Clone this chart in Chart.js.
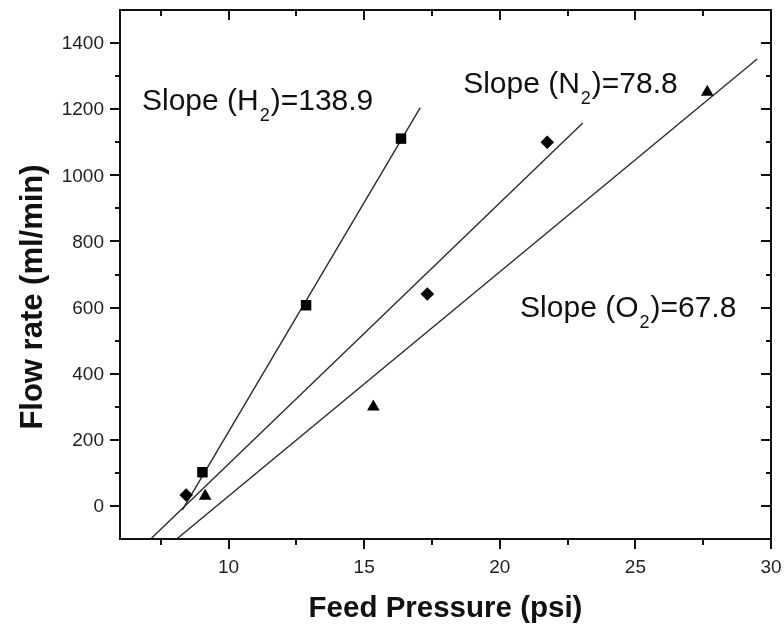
<!DOCTYPE html>
<html>
<head>
<meta charset="utf-8">
<script src="https://cdn.jsdelivr.net/npm/chart.js@4.4.0/dist/chart.umd.min.js"></script>
<style>
  html, body { margin: 0; padding: 0; background: #fff; }
  #wrap { width: 784px; height: 626px; }
</style>
</head>
<body>
<div id="wrap"><canvas id="chart" width="784" height="626"></canvas></div>
<script>
// Measured points (feed pressure in psi, flow rate in ml/min)
const h2Pressure = [9.04, 12.86, 16.36];
const h2Flow = [102, 607, 1111];
const n2Pressure = [8.44, 17.33, 21.75];
const n2Flow = [33, 641, 1100];
const o2Pressure = [9.14, 15.34, 27.65];
const o2Flow = [30, 300, 1252];

// Fitted lines, end points
const h2FitPressure = [8.3, 17.07];
const h2FitFlow = [-12, 1205];
const n2FitPressure = [7.13, 23.06];
const n2FitFlow = [-100, 1158];
const o2FitPressure = [8.09, 29.49];
const o2FitFlow = [-100, 1352];

// Slope labels
const gasNames = ['H', 'N', 'O'];
const slopeValues = ['138.9', '78.8', '67.8'];

// Axes
const xMin = 6, xMax = 30;
const yMin = -100, yMax = 1500;
const xTicks = [10, 15, 20, 25, 30];
const xMinorTicks = [7.5, 12.5, 17.5, 22.5, 27.5];
const yTicks = [0, 200, 400, 600, 800, 1000, 1200, 1400];
const yMinorTicks = [100, 300, 500, 700, 900, 1100, 1300];

const FONT = '"Liberation Sans", Arial, sans-serif';
const INK = '#111';
const LINE = '#2b2b2b';

function toPoints(xs, ys) {
    return xs.map((x, i) => ({ x: x, y: ys[i] }));
}

// where each slope label sits (data units, left end of baseline)
const labelAnchors = [
    { x: 6.81, y: 1197 },
    { x: 18.65, y: 1248 },
    { x: 20.75, y: 571 }
];

// Frame, ticks, tick labels, axis titles and slope labels
const framePlugin = {
    id: 'frame',
    afterDraw(chart) {
        const ctx = chart.ctx;
        const area = chart.chartArea;
        const sx = chart.scales.x;
        const sy = chart.scales.y;
        ctx.save();
        ctx.strokeStyle = INK;
        ctx.lineWidth = 2;
        ctx.lineCap = 'butt';

        // box
        ctx.strokeRect(area.left, area.top, area.right - area.left, area.bottom - area.top);

        ctx.beginPath();
        const tickX = (v, len) => {
            const px = Math.round(sx.getPixelForValue(v));
            ctx.moveTo(px, area.bottom); ctx.lineTo(px, area.bottom + len);   // bottom, outward
            ctx.moveTo(px, area.top); ctx.lineTo(px, area.top + len);         // top, inward
        };
        const tickY = (v, len) => {
            const py = Math.round(sy.getPixelForValue(v));
            ctx.moveTo(area.left - len, py); ctx.lineTo(area.left, py);       // left, outward
            ctx.moveTo(area.right - len, py); ctx.lineTo(area.right, py);     // right, inward
        };
        xTicks.forEach(v => tickX(v, 10));
        xMinorTicks.forEach(v => tickX(v, 6));
        yTicks.forEach(v => tickY(v, 10));
        yMinorTicks.forEach(v => tickY(v, 5));
        ctx.stroke();

        // tick labels
        ctx.fillStyle = '#222';
        ctx.font = '19px ' + FONT;
        ctx.textAlign = 'center';
        ctx.textBaseline = 'alphabetic';
        xTicks.forEach(v => ctx.fillText(String(v), sx.getPixelForValue(v), area.bottom + 34));
        ctx.textAlign = 'right';
        ctx.textBaseline = 'middle';
        yTicks.forEach(v => ctx.fillText(String(v), area.left - 16, sy.getPixelForValue(v) + 1));

        // axis titles
        ctx.fillStyle = INK;
        ctx.font = 'bold 29.5px ' + FONT;
        ctx.textAlign = 'center';
        ctx.textBaseline = 'alphabetic';
        ctx.fillText('Feed Pressure (psi)', (area.left + area.right) / 2, area.bottom + 78);

        ctx.save();
        ctx.translate(42, 297);
        ctx.rotate(-Math.PI / 2);
        ctx.font = 'bold 31px ' + FONT;
        ctx.fillText('Flow rate (ml/min)', 0, 0);
        ctx.restore();

        // slope labels with subscript 2
        ctx.textAlign = 'left';
        ctx.textBaseline = 'alphabetic';
        gasNames.forEach((g, i) => {
            let x = sx.getPixelForValue(labelAnchors[i].x);
            const y = sy.getPixelForValue(labelAnchors[i].y);
            ctx.font = '30px ' + FONT;
            const head = 'Slope (' + g;
            ctx.fillText(head, x, y);
            x += ctx.measureText(head).width + 1;
            ctx.font = '18px ' + FONT;
            ctx.fillText('2', x, y + 11);
            x += ctx.measureText('2').width + 1;
            ctx.font = '30px ' + FONT;
            ctx.fillText(')=' + slopeValues[i], x, y);
        });

        ctx.restore();
    }
};

const markerStyle = {
    showLine: false,
    backgroundColor: '#000',
    borderColor: '#000',
    borderWidth: 0
};

const fitStyle = {
    showLine: true,
    pointRadius: 0,
    borderColor: LINE,
    borderWidth: 1.4,
    fill: false
};

new Chart(document.getElementById('chart'), {
    type: 'scatter',
    data: {
        datasets: [
            Object.assign({ label: 'H2', data: toPoints(h2Pressure, h2Flow), pointStyle: 'rect', pointRadius: 7.4 }, markerStyle),
            Object.assign({ label: 'N2', data: toPoints(n2Pressure, n2Flow), pointStyle: 'rectRot', pointRadius: 6.8 }, markerStyle),
            Object.assign({ label: 'O2', data: toPoints(o2Pressure, o2Flow), pointStyle: 'triangle', pointRadius: 7.3 }, markerStyle),
            Object.assign({ label: 'H2 fit', data: toPoints(h2FitPressure, h2FitFlow) }, fitStyle),
            Object.assign({ label: 'N2 fit', data: toPoints(n2FitPressure, n2FitFlow) }, fitStyle),
            Object.assign({ label: 'O2 fit', data: toPoints(o2FitPressure, o2FitFlow) }, fitStyle)
        ]
    },
    options: {
        responsive: false,
        animation: false,
        layout: { padding: { left: 120, right: 13, top: 10, bottom: 87 } },
        scales: {
            x: { type: 'linear', min: xMin, max: xMax, display: false },
            y: { type: 'linear', min: yMin, max: yMax, display: false }
        },
        plugins: {
            legend: { display: false },
            tooltip: { enabled: false }
        }
    },
    plugins: [framePlugin]
});
</script>
</body>
</html>
